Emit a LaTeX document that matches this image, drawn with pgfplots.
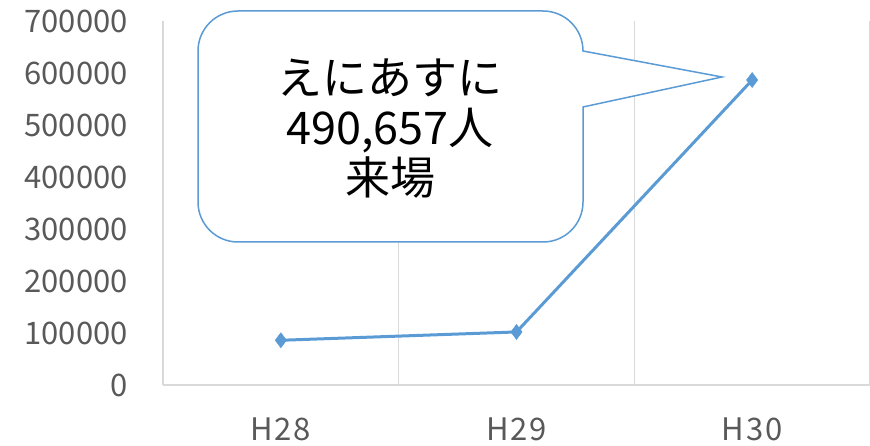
\documentclass[border=0pt]{standalone}
\usepackage{fontspec}
\setmainfont{Noto Sans CJK JP}
\newfontfamily\xlabfont[LetterSpace=6]{Noto Sans CJK JP}
\usepackage{pgfplots}
\pgfplotsset{compat=1.18}
\definecolor{serblue}{HTML}{5B9BD5}
\definecolor{tickgray}{HTML}{595959}
\definecolor{gridgray}{HTML}{D9D9D9}
\begin{document}
\begin{tikzpicture}[x=1pt,y=1pt]
\begin{axis}[
  at={(163pt,61pt)}, anchor=south west,
  scale only axis, width=707pt, height=364pt,
  xmin=0.5, xmax=3.5, ymin=0, ymax=700000,
  xtick={1,2,3}, xticklabels={H28,H29,H30},
  ytick={0,100000,...,700000},
  minor xtick={1.5,2.5,3.5},
  xminorgrids=true,
  minor grid style={gridgray, line width=1.2pt},
  major tick length=0pt, minor tick length=0pt,
  axis lines*=left,
  axis line style={gridgray, line width=1.5pt},
  scaled y ticks=false,
  /pgf/number format/assume math mode=true,
  yticklabel style={/pgf/number format/fixed, /pgf/number format/1000 sep={}, inner sep=0pt, font=\fontsize{31pt}{36pt}\selectfont, text=tickgray},
  xticklabel style={inner sep=0pt, font=\xlabfont\fontsize{31pt}{36pt}\selectfont, text=tickgray},
  yticklabel shift=35pt,
  xticklabel shift=33pt,
  clip=false,
]
\addplot[serblue, line width=3pt, mark=diamond*, mark size=7.5pt, mark options={fill=serblue, draw=serblue, line width=0.5pt}]
  coordinates {(1,86000) (2,102000) (3,586500)};
\end{axis}
\pgfresetboundingbox
\path[use as bounding box] (0,0) rectangle (870,446);
\draw[serblue, line width=1.5pt, fill=white]
  (238,204) -- (543,204) arc[start angle=270, end angle=360, radius=40]
  -- (583,339) -- (722,369) -- (583,395)
  arc[start angle=0, end angle=90, radius=40]
  -- (238,435) arc[start angle=90, end angle=180, radius=40]
  -- (198,244) arc[start angle=180, end angle=270, radius=40] -- cycle;
\node[align=center, inner sep=0pt, font=\fontsize{45pt}{50pt}\selectfont] at (390,317) {えにあすに\\490,657人\\来場};
\end{tikzpicture}
\end{document}
